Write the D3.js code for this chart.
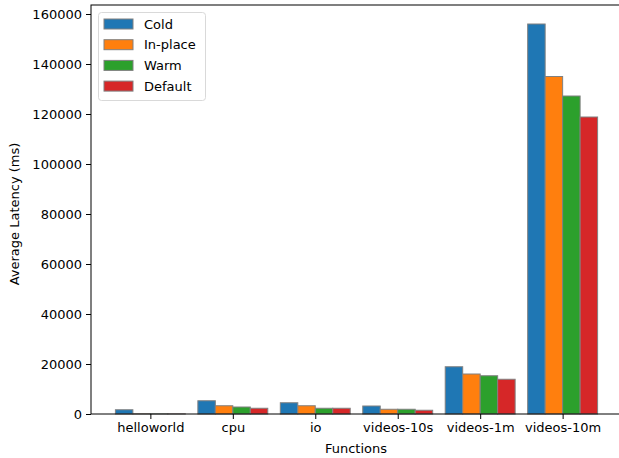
<!DOCTYPE html>
<html><head><meta charset="utf-8">
<script src="https://cdn.jsdelivr.net/npm/d3@7"></script>
<style>body{margin:0;background:#fff}svg{display:block;font-family:"DejaVu Sans",sans-serif}</style>
</head><body>
<svg id="c" width="619" height="458"></svg>
<script>
const categories = ["helloworld","cpu","io","videos-10s","videos-1m","videos-10m"];
const seriesNames = ["Cold","In-place","Warm","Default"];
const cold    = [1700, 5300, 4500, 3200, 18900, 156000];
const inplace = [80, 3300, 3300, 1900, 16000, 135000];
const warm    = [60, 2800, 2300, 1900, 15300, 127200];
const deflt   = [50, 2300, 2300, 1500, 13900, 118800];
const yTicks  = [0,20000,40000,60000,80000,100000,120000,140000,160000];
const colors  = ["#1f77b4","#ff7f0e","#2ca02c","#d62728"];
const series = [cold, inplace, warm, deflt];

const svg = d3.select("#c");
const L=91, R=622, T=5, B=414;
const x = d3.scaleLinear().domain([-0.72, 5.72]).range([L, R]);
const y = d3.scaleLinear().domain([0, 160000]).range([B, 14]);
const bw = 0.212;

series.forEach((vals, s) => {
  svg.append("g").selectAll("rect").data(vals).join("rect")
    .attr("x", (d,i) => x(i + (s-1.5)*bw - bw/2))
    .attr("width", x(bw) - x(0))
    .attr("y", d => y(d))
    .attr("height", d => B - y(d))
    .attr("fill", colors[s])
    .attr("stroke", "#808080").attr("stroke-width", 1);
});

// frame
svg.append("rect").attr("x", L).attr("y", T).attr("width", R-L).attr("height", B-T)
  .attr("fill","none").attr("stroke","#000").attr("stroke-width",1);

// x axis
const xa = svg.append("g").attr("transform", `translate(0,${B})`)
  .call(d3.axisBottom(x).tickValues(d3.range(categories.length)).tickFormat(i => categories[i]).tickSize(5).tickPadding(4));
xa.select(".domain").remove();
xa.selectAll("text").attr("font-size", 13).attr("fill","#000").attr("font-family","DejaVu Sans");

// y axis
const ya = svg.append("g").attr("transform", `translate(${L},0)`)
  .call(d3.axisLeft(y).tickValues(yTicks).tickFormat(d3.format("d")).tickSize(5).tickPadding(4));
ya.select(".domain").remove();
ya.selectAll("text").attr("font-size", 13).attr("fill","#000").attr("font-family","DejaVu Sans");

svg.append("text").attr("x", 356).attr("y", 453).attr("text-anchor","middle")
  .attr("font-size", 13).text("Functions");
svg.append("text").attr("transform", "translate(19,214) rotate(-90)").attr("text-anchor","middle")
  .attr("font-size", 13).text("Average Latency (ms)");

// legend
const lg = svg.append("g");
lg.append("rect").attr("x", 98.5).attr("y", 12.5).attr("width", 107).attr("height", 88).attr("rx", 3)
  .attr("fill","#fff").attr("fill-opacity",0.8).attr("stroke","#d9d9d9");
seriesNames.forEach((n, i) => {
  const cy = 24 + i*20.7;
  lg.append("rect").attr("x", 104).attr("y", cy-5).attr("width", 29).attr("height", 10)
    .attr("fill", colors[i]).attr("stroke","#808080").attr("stroke-width",1);
  lg.append("text").attr("x", 144).attr("y", cy+4.5).attr("font-size", 13).text(n);
});
</script>
</body></html>
